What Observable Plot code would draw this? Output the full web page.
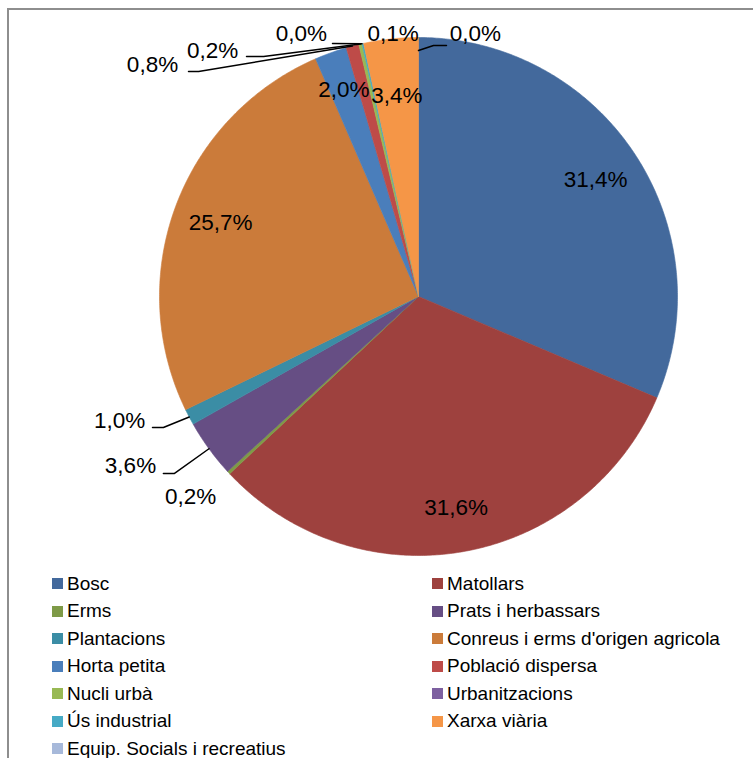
<!DOCTYPE html>
<html>
<head>
<meta charset="utf-8">
<script src="https://cdn.jsdelivr.net/npm/d3@7"></script>
<script src="https://cdn.jsdelivr.net/npm/@observablehq/plot@0.6"></script>
<style>
  html, body { margin: 0; padding: 0; background: #fff; overflow: hidden; width: 753px; height: 758px; }
  #frame { position: absolute; left: 7px; top: 8px; width: 900px; height: 900px; border: 2px solid #8e8e8e; box-sizing: border-box; }
  #chart { position: absolute; left: 0; top: 0; }
  #legend { position: absolute; left: 52px; top: 570px; display: grid; grid-template-columns: 380px 330px; grid-auto-rows: 27.5px;
            font-family: "Liberation Sans", Arial, sans-serif; font-size: 19px; color: #000; }
  .item { display: flex; align-items: center; white-space: nowrap; }
  .sw { width: 11px; height: 11px; margin-right: 4px; flex: none; }
</style>
</head>
<body>
<div id="frame"></div>
<div id="chart"></div>
<div id="legend"></div>
<script>
// ---- data ----
const categories = ["Bosc", "Matollars", "Erms", "Prats i herbassars", "Plantacions",
  "Conreus i erms d'origen agricola", "Horta petita", "Població dispersa", "Nucli urbà",
  "Urbanitzacions", "Ús industrial", "Xarxa viària", "Equip. Socials i recreatius"];
const values = [31.4, 31.6, 0.2, 3.6, 1.0, 25.7, 2.0, 0.8, 0.2, 0.0, 0.1, 3.4, 0.0];
const colors = ["#43699c", "#9e413e", "#7e9a47", "#664e84", "#3b8da5", "#cb7b3a",
  "#4a7ebb", "#be4b48", "#98b954", "#7d60a0", "#46aac5", "#f59647", "#a7b9da"];

// ---- layout (in pie-radius units, y downward) ----
const W = 753, H = 565, CX = 418, CY = 296, R = 259;
const insideRadius = {"Bosc": 0.82, "Matollars": 0.83, "Conreus i erms d'origen agricola": 0.815,
  "Horta petita": 0.85, "Xarxa viària": 0.78};
const outsidePos = {
  "Erms": [-0.880, 0.772], "Prats i herbassars": [-1.112, 0.653], "Plantacions": [-1.154, 0.479],
  "Població dispersa": [-1.027, -0.896], "Nucli urbà": [-0.795, -0.950], "Urbanitzacions": [-0.452, -1.015],
  "Ús industrial": [-0.098, -1.015], "Equip. Socials i recreatius": [0.220, -1.015]
};
const leaders = {
  "Població dispersa": [[-0.888, -0.869], [-0.849, -0.869]],
  "Nucli urbà": [[-0.664, -0.927], [-0.598, -0.927]],
  "Urbanitzacions": [[-0.332, -0.977]],
  "Equip. Socials i recreatius": [[0.108, -0.969], [0.058, -0.969]],
  "Plantacions": [[-1.027, 0.506], [-0.985, 0.506]],
  "Prats i herbassars": [[-0.985, 0.683], [-0.942, 0.683]]
};
const leaderEnd = {"Equip. Socials i recreatius": 0.95};

const fmt = v => d3.format(".1f")(v).replace(".", ",") + "%";
const total = d3.sum(values);

// slices
const slicePts = [], labelPts = [], leaderPts = [];
let cum = 0;
categories.forEach((cat, i) => {
  const a0 = cum / total * 2 * Math.PI;
  cum += values[i];
  const a1 = cum / total * 2 * Math.PI;
  const mid = (a0 + a1) / 2;
  if (values[i] > 0) {
    const n = Math.max(2, Math.ceil((a1 - a0) / (Math.PI / 360)));
    slicePts.push({cat, x: 0, y: 0});
    for (let k = 0; k <= n; k++) {
      const a = a0 + (a1 - a0) * k / n;
      slicePts.push({cat, x: Math.sin(a), y: -Math.cos(a)});
    }
    slicePts.push({cat, x: 0, y: 0});
  }
  if (outsidePos[cat]) {
    labelPts.push({cat, text: fmt(values[i]), x: outsidePos[cat][0], y: outsidePos[cat][1]});
  } else {
    const r = insideRadius[cat] ?? 0.8;
    labelPts.push({cat, text: fmt(values[i]), x: r * Math.sin(mid), y: -r * Math.cos(mid)});
  }
  if (leaders[cat]) {
    leaders[cat].forEach(p => leaderPts.push({cat, x: p[0], y: p[1]}));
    const re = leaderEnd[cat] ?? 1.0;
    leaderPts.push({cat, x: re * Math.sin(mid), y: -re * Math.cos(mid)});
  }
});

const chart = Plot.plot({
  width: W, height: H, margin: 0,
  style: {fontFamily: "'Liberation Sans', Arial, sans-serif", background: "transparent"},
  x: {domain: [-CX / R, (W - CX) / R], range: [0, W], axis: null},
  y: {domain: [-CY / R, (H - CY) / R], range: [0, H], axis: null},
  color: {type: "ordinal", domain: categories, range: colors},
  marks: [
    Plot.line(slicePts, {x: "x", y: "y", z: "cat", fill: "cat", stroke: "cat", strokeWidth: 0.6, curve: "linear"}),
    Plot.line(leaderPts, {x: "x", y: "y", z: "cat", stroke: "#000", strokeWidth: 1.5, curve: "linear"}),
    Plot.text(labelPts, {x: "x", y: "y", text: "text", fontSize: 22.5, fill: "#000", textAnchor: "middle", lineAnchor: "middle"})
  ]
});
document.getElementById("chart").appendChild(chart);

// legend
const legend = d3.select("#legend");
categories.forEach((cat, i) => {
  const it = legend.append("div").attr("class", "item");
  it.append("span").attr("class", "sw").style("background", colors[i]);
  it.append("span").text(cat);
});
</script>
</body>
</html>
